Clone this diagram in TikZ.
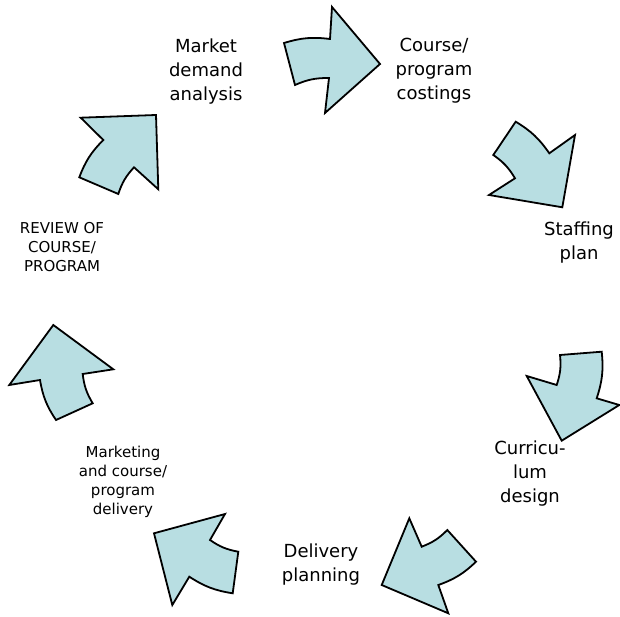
\documentclass[tikz,border=0pt]{standalone}
\usepackage{fontspec}
\setmainfont{DejaVu Sans}
\usepackage{xcolor}
\usepackage{tikz}
\definecolor{arrowfill}{RGB}{184,222,226}

\begin{document}
\begin{tikzpicture}[x=1pt, y=-1pt,
    cyclearrow/.style={fill=arrowfill, draw=black, line width=1.8pt, line join=miter},
    lbl/.style={align=center, inner sep=0pt, font=\fontsize{18}{24}\selectfont},
    smalllbl/.style={align=center, inner sep=0pt, font=\fontsize{15}{19}\selectfont}]
    \useasboundingbox (0,0) rectangle (620,617);

    % Arrow: analysis -> costings
    \draw[cyclearrow] (284,43) to[bend left=12] (330,39) -- (332,7) -- (380,64) -- (325,113)
        -- (329,78) to[bend right=12] (295,85) -- cycle;

    % Arrow: costings -> staffing
    \draw[cyclearrow] (515.7,121.7) to[bend left=12] (549.3,153.3) -- (575,135) -- (562.3,207.3)
        -- (489,195) -- (515,178.3) to[bend right=12] (493.3,155) -- cycle;

    % Arrow: staffing -> curriculum
    \draw[cyclearrow] (560,355) -- (601.7,351.7) to[bend left=12] (596.7,398.3) -- (619.3,405)
        -- (561.7,440.7) -- (526.7,376) -- (556.7,385) to[bend right=12] cycle;

    % Arrow: curriculum -> delivery
    \draw[cyclearrow] (381.7,585) -- (409.3,518.3) -- (421.7,546.7) to[bend right=12] (447.3,530)
        -- (476,561.7) to[bend left=12] (438.3,585) -- (448.3,613.3) -- cycle;

    % Arrow: delivery -> marketing
    \draw[cyclearrow] (154,533.3) -- (225,514) -- (210,540) to[bend right=12] (238.3,551.7)
        -- (232.7,593.3) to[bend left=12] (189.3,576.7) -- (172.3,605) -- cycle;

    % Arrow: marketing -> review
    \draw[cyclearrow] (53.3,325) -- (113.3,369.3) -- (82.7,374) to[bend right=12] (92.7,403.3)
        -- (56,420) to[bend left=12] (40,380) -- (9.3,385) -- cycle;

    % Arrow: review -> analysis
    \draw[cyclearrow] (156,115) -- (158.3,189.3) -- (134,167.3) to[bend right=12] (118.3,194)
        -- (79.3,177.3) to[bend left=12] (103.3,140) -- (80.7,117.7) -- cycle;

    % Labels
    \node[lbl] (market) at (206,72) {Market\\demand\\analysis};
    \node[lbl] (costings) at (434,71) {Course/\\program\\costings};
    \node[lbl] (staffing) at (579,243) {Staffing\\plan};
    \node[lbl] (curriculum) at (530,474) {Curricu-\\lum\\design};
    \node[lbl] (delivery) at (321,565) {Delivery\\planning};
    \node[smalllbl] (marketing) at (123,482) {Marketing\\and course/\\program\\delivery};
    \node[smalllbl] (review) at (62,247) {REVIEW OF\\COURSE/\\PROGRAM};

\end{tikzpicture}
\end{document}
